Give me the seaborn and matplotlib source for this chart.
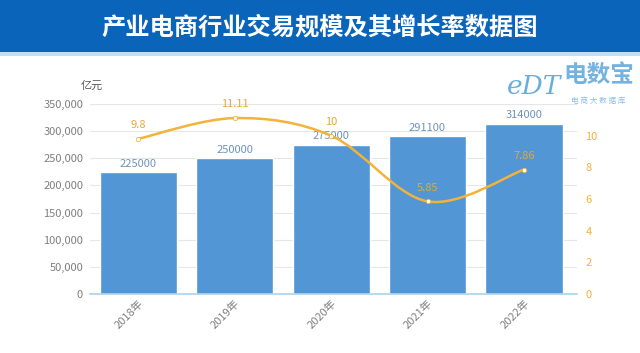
import numpy as np
import pandas as pd
import matplotlib
matplotlib.use("Agg")
import matplotlib.pyplot as plt
from matplotlib.path import Path
from matplotlib.patches import PathPatch, Rectangle
from matplotlib.ticker import FuncFormatter
import seaborn as sns

# data
years = ["2018年", "2019年", "2020年", "2021年", "2022年"]
scale = [225000, 250000, 275000, 291100, 314000]   # 亿元
growth = [9.8, 11.11, 10, 5.85, 7.86]               # %
growth_labels = ["9.8", "11.11", "10", "5.85", "7.86"]

sns.set_theme(style="white")
plt.rcParams["font.family"] = ["Noto Sans CJK SC", "DejaVu Sans"]

bar_color = "#5296d5"
line_color = "#f2b33a"
gray = "#7f7f7f"

fig = plt.figure(figsize=(6.4, 3.53), dpi=100)

# title band
fig.patches.append(Rectangle((0, 1 - 52 / 353), 1, 52 / 353, transform=fig.transFigure,
                             facecolor="#0a64b9", edgecolor="none", zorder=0))
fig.patches.append(Rectangle((0, 1 - 56 / 353), 1, 4 / 353, transform=fig.transFigure,
                             facecolor="#bfe0f5", edgecolor="none", zorder=0))
fig.text(0.5, 1 - 27 / 353, "产业电商行业交易规模及其增长率数据图", ha="center", va="center",
         color="white", fontsize=17.5, fontweight="bold")

ax = fig.add_axes([90 / 640, 1 - 294 / 353, 487 / 640, 190 / 353])
df = pd.DataFrame({"year": years, "scale": scale, "growth": growth})
sns.barplot(data=df, x="year", y="scale", color=bar_color, width=0.8,
            saturation=1, ax=ax, zorder=2)
ax.set_ylim(0, 350000)
ax.set_xlim(-0.5, 4.55)
ax.set_yticks(np.arange(0, 350001, 50000))
ax.yaxis.set_major_formatter(FuncFormatter(lambda v, p: f"{int(v):,}"))
ax.grid(axis="y", color="#e6e6e6", linewidth=0.8, zorder=0)
ax.set_xlabel("")
ax.set_ylabel("")
for s in ["top", "right", "left"]:
    ax.spines[s].set_visible(False)
ax.spines["bottom"].set_color("#a9d3ee")
ax.spines["bottom"].set_linewidth(1.2)
ax.tick_params(axis="y", labelsize=8, colors=gray, length=0, pad=5)
ax.tick_params(axis="x", labelsize=8, colors=gray, length=0, pad=3)
for lab in ax.get_xticklabels():
    lab.set_rotation(45)
    lab.set_ha("right")
    lab.set_rotation_mode("anchor")
for i, v in enumerate(scale):
    ax.text(i, v + 6000, str(v), ha="center", va="bottom", fontsize=8, color="#6f94b8", zorder=5)
ax.text(-0.02, 1.07, "亿元", transform=ax.transAxes, fontsize=8, color="#595959",
        ha="left", va="bottom")

# growth rate on secondary axis, smoothed curve through the read points
ax2 = ax.twinx()
ax2.set_ylim(0, 12)
ax2.set_yticks(np.arange(0, 11, 2))
for s in ax2.spines.values():
    s.set_visible(False)
ax2.tick_params(axis="y", labelsize=8, colors=line_color, length=0, pad=6)
ax2.grid(False)

xs = np.arange(len(growth), dtype=float)
ys = np.array(growth, dtype=float)
verts = [(xs[0], ys[0])]
codes = [Path.MOVETO]
for i in range(len(xs) - 1):
    p0 = (xs[max(i - 1, 0)], ys[max(i - 1, 0)])
    p1 = (xs[i], ys[i])
    p2 = (xs[i + 1], ys[i + 1])
    p3 = (xs[min(i + 2, len(xs) - 1)], ys[min(i + 2, len(xs) - 1)])
    c1 = (p1[0] + (p2[0] - p0[0]) / 6, p1[1] + (p2[1] - p0[1]) / 6)
    c2 = (p2[0] - (p3[0] - p1[0]) / 6, p2[1] - (p3[1] - p1[1]) / 6)
    verts += [c1, c2, p2]
    codes += [Path.CURVE4] * 3
ax2.add_patch(PathPatch(Path(verts, codes), facecolor="none", edgecolor=line_color,
                        linewidth=1.8, zorder=4))
sns.scatterplot(x=xs, y=ys, ax=ax2, s=10, color="white", edgecolor=line_color,
                linewidth=0.6, zorder=5, legend=False)
for i, (v, t) in enumerate(zip(growth, growth_labels)):
    ax2.text(i, v + 0.55, t, ha="center", va="bottom", fontsize=8, color="#e0a93a", zorder=6)

# watermark logo
fig.text(0.835, 1 - 86 / 353, "eDT", fontsize=19, color="#4f9fd9", fontstyle="italic",
         ha="center", va="center", fontfamily="DejaVu Serif", alpha=0.85)
fig.text(0.935, 1 - 75 / 353, "电数宝", fontsize=17, color="#5aa6dc", fontweight="bold",
         ha="center", va="center", alpha=0.85)
fig.text(0.935, 1 - 101 / 353, "电 商 大 数 据 库", fontsize=5.5, color="#8cbfe3",
         ha="center", va="center")

fig.savefig("out.png", dpi=100)
